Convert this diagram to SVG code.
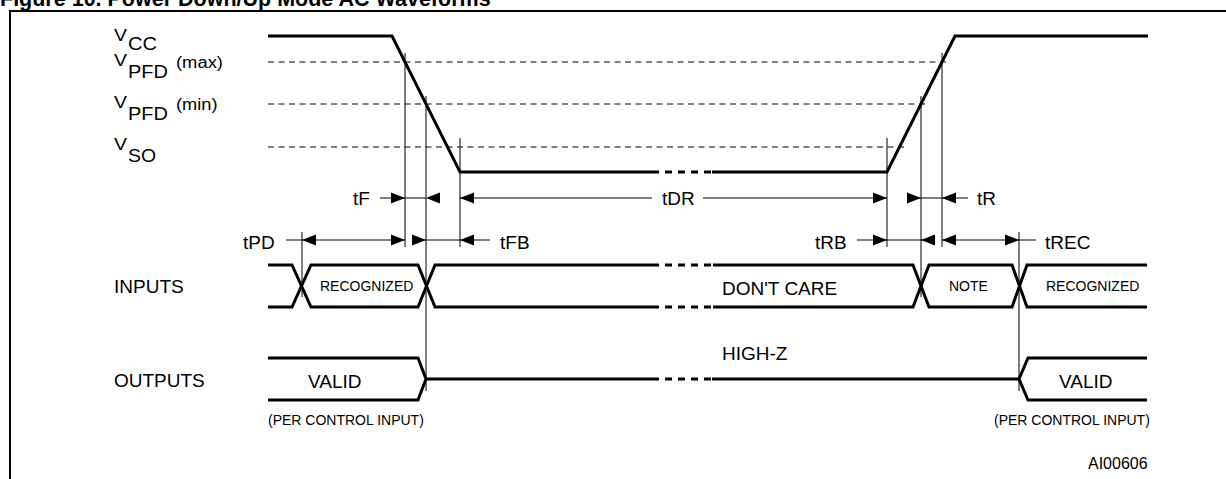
<svg xmlns="http://www.w3.org/2000/svg" xmlns:xlink="http://www.w3.org/1999/xlink" width="1226" height="479" viewBox="0 0 1226 479">
<style>
text{font-family:"Liberation Sans",Arial,Helvetica,sans-serif;fill:#000}
.lbl{font-size:19px}
.sm{font-size:14px}
.v{font-size:16px}
.sub{font-size:18px}
.par{font-size:16px}
.title{font-size:21.5px;font-weight:bold}
.w{stroke:#000;stroke-width:3;fill:none;stroke-linejoin:miter}
.brk{stroke:#000;stroke-width:3;fill:none;stroke-dasharray:7 6}
.t{stroke:#000;stroke-width:1;fill:none}
.d{stroke:#000;stroke-width:1;fill:none;stroke-dasharray:6 4.5}
.frame{stroke:#000;stroke-width:2;fill:none}
</style>
<defs>
<path id="ar" d="M0,0 L-14,-5.5 L-14,5.5 Z" fill="#000"/>
<path id="al" d="M0,0 L14,-5.5 L14,5.5 Z" fill="#000"/>
</defs>
<rect width="1226" height="479" fill="#fff"/>
<text class="title" x="0" y="6">Figure 10. Power Down/Up Mode AC Waveforms</text>
<path class="frame" d="M10,479 L10,11 L1226,11"/>

<g id="vcc-labels">
<text class="v" x="114" y="41" textLength="13" lengthAdjust="spacingAndGlyphs">V</text><text class="sub" x="128" y="50" textLength="29" lengthAdjust="spacingAndGlyphs">CC</text>
<text class="v" x="114" y="66" textLength="13" lengthAdjust="spacingAndGlyphs">V</text><text class="sub" x="128" y="78" textLength="40" lengthAdjust="spacingAndGlyphs">PFD</text><text class="par" x="176" y="68" textLength="47" lengthAdjust="spacingAndGlyphs">(max)</text>
<text class="v" x="114" y="108" textLength="13" lengthAdjust="spacingAndGlyphs">V</text><text class="sub" x="128" y="120" textLength="40" lengthAdjust="spacingAndGlyphs">PFD</text><text class="par" x="176" y="110" textLength="41.5" lengthAdjust="spacingAndGlyphs">(min)</text>
<text class="v" x="114" y="150" textLength="13" lengthAdjust="spacingAndGlyphs">V</text><text class="sub" x="128" y="162" textLength="28" lengthAdjust="spacingAndGlyphs">SO</text>
</g>

<g id="levels">
<line class="d" x1="268" y1="62" x2="948" y2="62"/>
<line class="d" x1="268" y1="104" x2="925" y2="104"/>
<line class="d" x1="268" y1="147" x2="908" y2="147"/>
</g>

<g id="vcc-wave">
<path class="w" d="M268,36 L392,36 L460,172 L652,172"/>
<line class="brk" x1="652" y1="172" x2="712" y2="172"/>
<path class="w" d="M712,172 L887,172 L955,36 L1148,36"/>
</g>

<g id="inputs">
<text class="lbl" x="114" y="293">INPUTS</text>
<path class="w" d="M268,265 L292,265 L311,307 L418,307 L435,265 L652,265"/>
<path class="w" d="M268,307 L292,307 L311,265 L418,265 L435,307 L652,307"/>
<line class="brk" x1="652" y1="265" x2="713" y2="265"/>
<line class="brk" x1="652" y1="307" x2="713" y2="307"/>
<path class="w" d="M713,265 L913,265 L929,307 L1012,307 L1027,265 L1147,265"/>
<path class="w" d="M713,307 L913,307 L929,265 L1012,265 L1027,307 L1147,307"/>
<text class="sm" x="320" y="291">RECOGNIZED</text>
<text class="lbl" x="722" y="295">DON'T CARE</text>
<text class="sm" x="949" y="291">NOTE</text>
<text class="sm" x="1046" y="291">RECOGNIZED</text>
</g>

<g id="outputs">
<text class="lbl" x="114" y="387">OUTPUTS</text>
<path class="w" d="M268,358 L418,358 L426,379 L418,400 L268,400"/>
<path class="w" d="M426,379 L652,379"/>
<line class="brk" x1="652" y1="379" x2="712" y2="379"/>
<path class="w" d="M712,379 L1019,379"/>
<path class="w" d="M1147,358 L1028,358 L1019,379 L1028,400 L1147,400"/>
<text class="lbl" x="308" y="388">VALID</text>
<text class="lbl" x="1059" y="388">VALID</text>
<text class="lbl" x="722" y="360">HIGH-Z</text>
<text class="sm" x="268" y="425">(PER CONTROL INPUT)</text>
<text class="sm" x="994" y="425">(PER CONTROL INPUT)</text>
</g>

<g id="connectors">
<line class="t" x1="302" y1="232" x2="302" y2="297"/>
<line class="t" x1="405" y1="53" x2="405" y2="247"/>
<line class="t" x1="426" y1="96" x2="426" y2="391"/>
<line class="t" x1="460" y1="138" x2="460" y2="247"/>
<line class="t" x1="887" y1="138" x2="887" y2="247"/>
<line class="t" x1="921" y1="96" x2="921" y2="297"/>
<line class="t" x1="942" y1="53" x2="942" y2="247"/>
<line class="t" x1="1019" y1="232" x2="1019" y2="391"/>

<line class="t" x1="380" y1="198" x2="426" y2="198"/>
<use xlink:href="#ar" x="405" y="198"/>
<use xlink:href="#al" x="426" y="198"/>
<line class="t" x1="460" y1="198" x2="652" y2="198"/>
<line class="t" x1="703" y1="198" x2="887" y2="198"/>
<use xlink:href="#al" x="460" y="198"/>
<use xlink:href="#ar" x="887" y="198"/>
<line class="t" x1="907" y1="198" x2="968" y2="198"/>
<use xlink:href="#ar" x="921" y="198"/>
<use xlink:href="#al" x="942" y="198"/>

<line class="t" x1="286" y1="240" x2="405" y2="240"/>
<use xlink:href="#al" x="302" y="240"/>
<use xlink:href="#ar" x="405" y="240"/>
<line class="t" x1="412" y1="240" x2="490" y2="240"/>
<use xlink:href="#ar" x="426" y="240"/>
<use xlink:href="#al" x="460" y="240"/>
<line class="t" x1="857" y1="240" x2="935" y2="240"/>
<use xlink:href="#ar" x="887" y="240"/>
<use xlink:href="#al" x="921" y="240"/>
<line class="t" x1="942" y1="240" x2="1036" y2="240"/>
<use xlink:href="#al" x="942" y="240"/>
<use xlink:href="#ar" x="1019" y="240"/>
</g>

<g id="timing-labels">
<text class="lbl" x="353" y="205">tF</text>
<text class="lbl" x="662" y="205">tDR</text>
<text class="lbl" x="977" y="205">tR</text>
<text class="lbl" x="243" y="249">tPD</text>
<text class="lbl" x="500" y="249">tFB</text>
<text class="lbl" x="815" y="249">tRB</text>
<text class="lbl" x="1045" y="249">tREC</text>
<text class="lbl" x="1088" y="469" style="font-size:16px">AI00606</text>
</g>
</svg>
